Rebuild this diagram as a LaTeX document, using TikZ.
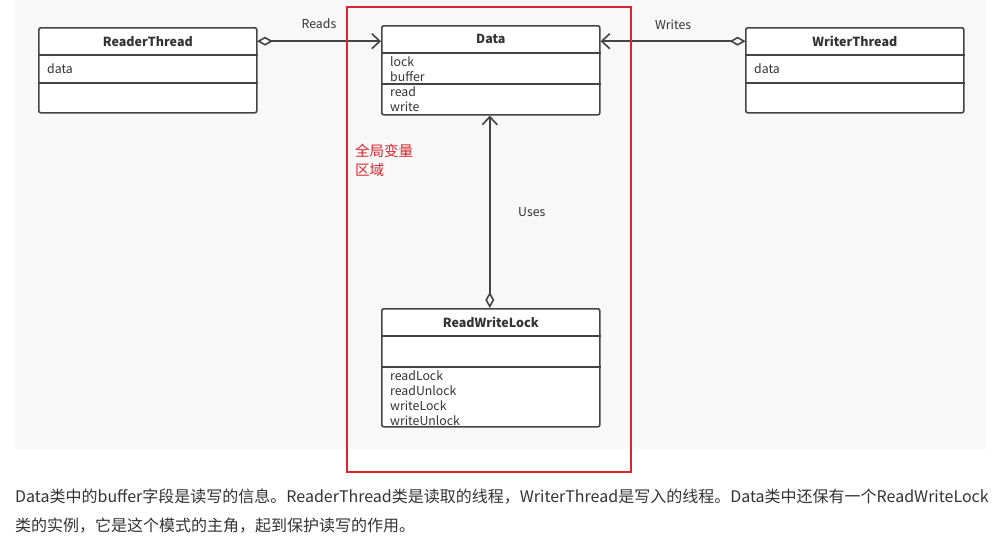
\documentclass[tikz,border=0pt]{standalone}
\usepackage{fontspec}
\newfontfamily\cjk{Noto Sans CJK SC}
\usepackage{tikz}
\usetikzlibrary{arrows.meta, positioning}
\definecolor{bggray}{RGB}{248,248,248}
\definecolor{linegray}{RGB}{68,68,68}
\definecolor{textgray}{RGB}{51,51,51}
\definecolor{markred}{RGB}{218,37,48}
\tikzset{
    classbox/.style = {draw = linegray, fill = white, line width = 1.6pt, rounded corners = 2pt, minimum width = 218pt, inner sep = 0pt},
    classhead/.style = {minimum width = 218pt, minimum height = 28pt, inner sep = 0pt, font = \cjk\bfseries\fontsize{12.5}{14}\selectfont, text = textgray},
    classsep/.style = {draw = linegray, line width = 1.6pt},
    member/.style = {anchor = west, inner sep = 0pt, font = \cjk\fontsize{12.3}{14}\selectfont, text = textgray},
    assoc/.style = {draw = linegray, line width = 1.6pt, {Diamond[open, length = 16pt, width = 9pt]}-{Straight Barb[length = 8pt, width = 15pt]}},
    linklabel/.style = {font = \cjk\fontsize{12.3}{14}\selectfont, text = textgray, inner sep = 0pt},
}

\begin{document}
\begin{tikzpicture}[x = 1pt, y = -1pt]
\useasboundingbox (0,0) rectangle (1000,544);
\fill[bggray] (15,0) rectangle (986,449);

\node[classbox, minimum height = 85pt, anchor = north west] (reader) at (38,27) {};
\node[classhead, anchor = north] (readerhead) at (reader.north) {ReaderThread};
\draw[classsep] ([yshift = -28pt]reader.north west) -- ([yshift = -28pt]reader.north east);
\draw[classsep] ([yshift = -56pt]reader.north west) -- ([yshift = -56pt]reader.north east);
\node[member] at ([xshift = 9pt, yshift = -42pt]reader.north west) {data};

\node[classbox, minimum height = 89pt, anchor = north west] (data) at (381,25) {};
\node[classhead, anchor = north] (datahead) at (data.north) {Data};
\draw[classsep] ([yshift = -28pt]data.north west) -- ([yshift = -28pt]data.north east);
\draw[classsep] ([yshift = -59pt]data.north west) -- ([yshift = -59pt]data.north east);
\node[member] at ([xshift = 9pt, yshift = -37pt]data.north west) {lock};
\node[member] at ([xshift = 9pt, yshift = -52pt]data.north west) {buffer};
\node[member] at ([xshift = 9pt, yshift = -67pt]data.north west) {read};
\node[member] at ([xshift = 9pt, yshift = -82pt]data.north west) {write};

\node[classbox, minimum height = 85pt, anchor = north west] (writer) at (745,27) {};
\node[classhead, anchor = north] (writerhead) at (writer.north) {WriterThread};
\draw[classsep] ([yshift = -28pt]writer.north west) -- ([yshift = -28pt]writer.north east);
\draw[classsep] ([yshift = -56pt]writer.north west) -- ([yshift = -56pt]writer.north east);
\node[member] at ([xshift = 9pt, yshift = -42pt]writer.north west) {data};

\node[classbox, minimum height = 118pt, anchor = north west] (rwlock) at (381,308) {};
\node[classhead, anchor = north] (rwlockhead) at (rwlock.north) {ReadWriteLock};
\draw[classsep] ([yshift = -28pt]rwlock.north west) -- ([yshift = -28pt]rwlock.north east);
\draw[classsep] ([yshift = -59pt]rwlock.north west) -- ([yshift = -59pt]rwlock.north east);
\node[member] at ([xshift = 9pt, yshift = -68pt]rwlock.north west) {readLock};
\node[member] at ([xshift = 9pt, yshift = -83pt]rwlock.north west) {readUnlock};
\node[member] at ([xshift = 9pt, yshift = -98pt]rwlock.north west) {writeLock};
\node[member] at ([xshift = 9pt, yshift = -113pt]rwlock.north west) {writeUnlock};

\draw[assoc] (readerhead.east) -- (readerhead.east -| data.west) node[linklabel, midway, yshift = 18pt] {Reads};
\draw[assoc] (writerhead.west) -- (writerhead.west -| data.east) node[linklabel, midway, yshift = 16pt] {Writes};
\draw[assoc] ([xshift = -1pt]rwlock.north) -- ([xshift = -1pt]data.south) node[linklabel, midway, xshift = 42pt] {Uses};

\draw[markred, line width = 1.6pt] (347,7) rectangle (631,472);
\node[anchor = north west, align = left, inner sep = 0pt, text = markred, font = \cjk\fontsize{14.5}{19}\selectfont] (globalnote) at (355,144) {全局变量\\区域};

\node[anchor = west, inner sep = 0pt, text = textgray, font = \cjk\fontsize{16}{19}\selectfont] (caption1) at (15,497) {Data类中的buffer字段是读写的信息。ReaderThread类是读取的线程，WriterThread是写入的线程。Data类中还保有一个ReadWriteLock};
\node[anchor = west, inner sep = 0pt, text = textgray, font = \cjk\fontsize{16}{19}\selectfont] (caption2) at (15,526) {类的实例，它是这个模式的主角，起到保护读写的作用。};
\end{tikzpicture}
\end{document}
